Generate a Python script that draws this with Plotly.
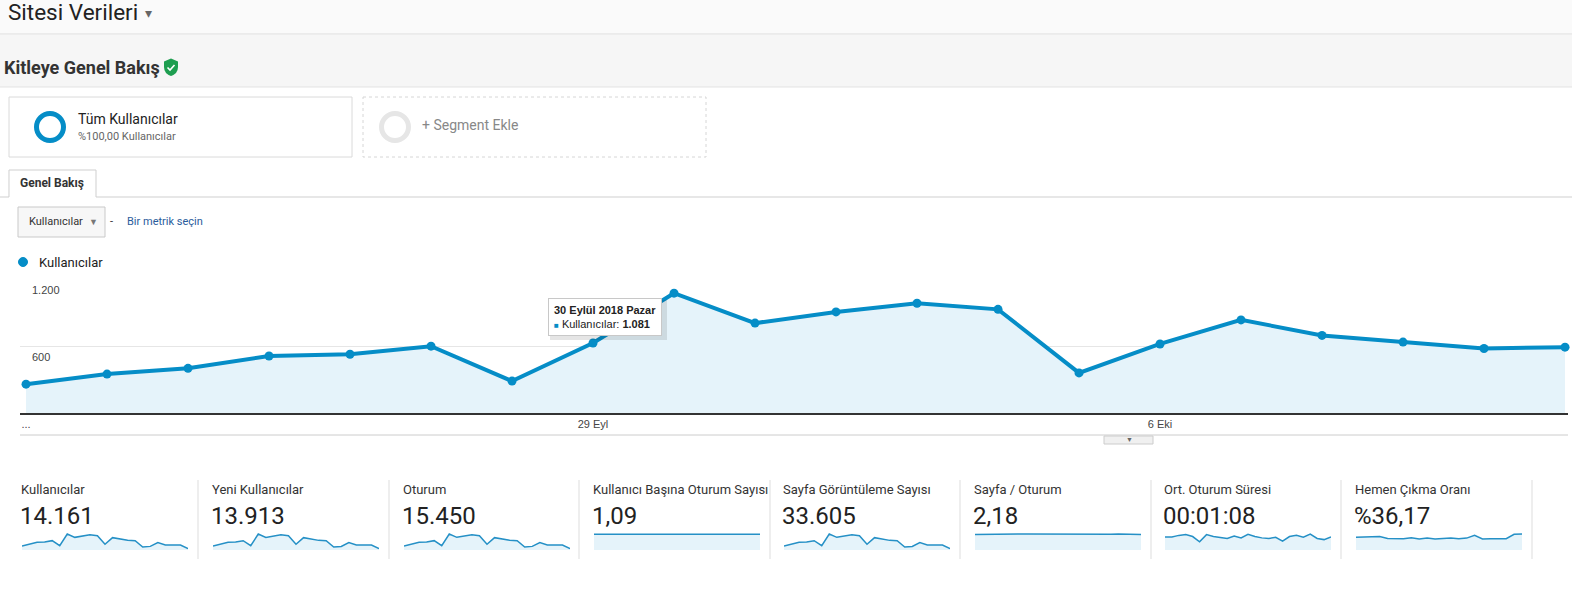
import plotly.graph_objects as go

W, H = 1572, 614

# ---------------- data ----------------
dates = ["2018-09-22", "2018-09-23", "2018-09-24", "2018-09-25", "2018-09-26",
         "2018-09-27", "2018-09-28", "2018-09-29", "2018-09-30", "2018-10-01",
         "2018-10-02", "2018-10-03", "2018-10-04", "2018-10-05", "2018-10-06",
         "2018-10-07", "2018-10-08", "2018-10-09", "2018-10-10", "2018-10-11"]
users = [260, 351, 403, 514, 530, 603, 288, 632, 1081, 811,
         912, 990, 935, 362, 623, 840, 700, 640, 582, 594]

ytick_vals = [600, 1200]
ytick_text = ["600", "1.200"]
xtick_vals = ["2018-09-22", "2018-09-29", "2018-10-06"]
xtick_text = ["...", "29 Eyl", "6 Eki"]

metric_names = ["Kullanıcılar", "Yeni Kullanıcılar", "Oturum",
                "Kullanıcı Başına Oturum Sayısı", "Sayfa Görüntüleme Sayısı",
                "Sayfa / Oturum", "Ort. Oturum Süresi", "Hemen Çıkma Oranı"]
metric_values = ["14.161", "13.913", "15.450", "1,09", "33.605", "2,18",
                 "00:01:08", "%36,17"]

spark_users = [270, 380, 510, 530, 620, 290, 1060, 840, 930, 1010, 950, 380,
               820, 710, 640, 620, 200, 240, 490, 330, 330, 330, 90]
spark_new_users = [265, 372, 500, 520, 608, 284, 1040, 823, 911, 990, 931, 372,
                   804, 696, 627, 608, 196, 235, 480, 323, 323, 323, 88]
spark_sessions = [294, 414, 556, 578, 676, 316, 1155, 916, 1014, 1101, 1036, 414,
                  894, 774, 698, 676, 218, 262, 534, 360, 360, 360, 98]
spark_sess_per_user = [1.08, 1.09, 1.09, 1.09, 1.09, 1.09, 1.09, 1.09, 1.10, 1.09,
                       1.09, 1.09, 1.09, 1.09, 1.09, 1.09, 1.09, 1.09, 1.09, 1.09,
                       1.10, 1.09, 1.09]
spark_pageviews = [640, 900, 1210, 1260, 1470, 690, 2520, 2000, 2210, 2400, 2260, 900,
                   1950, 1690, 1520, 1470, 475, 570, 1160, 785, 785, 785, 215]
spark_pages_per_session = [2.14, 2.16, 2.20, 2.18, 2.15, 2.18, 2.20, 2.19, 2.18, 2.17,
                           2.19, 2.18, 2.18, 2.19, 2.20, 2.19, 2.14, 2.19, 2.18, 2.20,
                           2.17, 2.19, 2.12]
spark_avg_duration = [68, 68, 76, 80, 70, 43, 80, 70, 65, 60, 73, 63, 82, 70, 63,
                      60, 66, 46, 70, 76, 66, 83, 60, 54, 68]
spark_bounce = [35.5, 35.5, 36.4, 37.2, 32.0, 32.0, 31.2, 33.8, 30.3, 32.9, 30.3,
                32.0, 32.9, 31.2, 32.9, 40.7, 30.3, 31.2, 32.0, 31.2, 43.3, 44.2]

sparks = [spark_users, spark_new_users, spark_sessions, spark_sess_per_user,
          spark_pageviews, spark_pages_per_session, spark_avg_duration, spark_bounce]

# ---------------- helpers ----------------
def X(p):
    return p / W


def Y(p):
    return 1 - p / H


BLUE = "#058dc7"
FILL = "#e5f3fa"
UI = "Roboto, Arial, sans-serif"
ARIAL = "Liberation Sans, Arial, sans-serif"

shapes = []
annotations = []


def rect(x0, y0, x1, y1, fill=None, line=None, lw=1, dash=None, layer="below"):
    d = dict(type="rect", xref="paper", yref="paper",
             x0=X(x0), x1=X(x1), y0=Y(y0), y1=Y(y1), layer=layer,
             fillcolor=fill if fill else "rgba(0,0,0,0)",
             line=dict(color=line if line else "rgba(0,0,0,0)", width=lw if line else 0))
    if dash:
        d["line"]["dash"] = dash
    shapes.append(d)


def hline(x0, x1, y, color, width=1, layer="below"):
    shapes.append(dict(type="line", xref="paper", yref="paper", x0=X(x0), x1=X(x1),
                       y0=Y(y), y1=Y(y), line=dict(color=color, width=width), layer=layer))


def vline(x, y0, y1, color, width=1):
    shapes.append(dict(type="line", xref="paper", yref="paper", x0=X(x), x1=X(x),
                       y0=Y(y0), y1=Y(y1), line=dict(color=color, width=width), layer="below"))


def circle(cx, cy, r, color, width, fill=None, layer="below"):
    shapes.append(dict(type="circle", xref="paper", yref="paper",
                       x0=X(cx - r), x1=X(cx + r), y0=Y(cy + r), y1=Y(cy - r),
                       fillcolor=fill if fill else "rgba(0,0,0,0)",
                       line=dict(color=color, width=width), layer=layer))


def path(cmds, fill=None, line=None, lw=1, layer="below"):
    s = ""
    for c in cmds:
        if isinstance(c, str):
            s += c + " "
        else:
            s += "%.6f,%.6f " % (X(c[0]), Y(c[1]))
    shapes.append(dict(type="path", xref="paper", yref="paper", path=s.strip(),
                       fillcolor=fill if fill else "rgba(0,0,0,0)",
                       line=dict(color=line if line else "rgba(0,0,0,0)", width=lw if line else 0),
                       layer=layer))


def text(x, y, t, size, color="#333", family=UI, xanchor="left", yanchor="middle", **kw):
    annotations.append(dict(x=X(x), y=Y(y), xref="paper", yref="paper", text=t,
                            showarrow=False, xanchor=xanchor, yanchor=yanchor,
                            font=dict(size=size, color=color, family=family), **kw))


# ---------------- page chrome ----------------
rect(0, 0, W, 34, fill="#fafafa")
hline(0, W, 34, "#dcdcdc")
rect(0, 35, W, 87, fill="#f6f6f6")
hline(0, W, 87, "#e3e3e3")

text(6, 12, "Sitesi Verileri", 22.5, "#222")
text(148, 13, "▾", 14, "#666", xanchor="center")

text(2, 67, "<b>Kitleye Genel Bakış</b>", 18, "#333")
# green shield with check
path(["M", (171, 58.5), "L", (178, 61.5), "L", (178, 67), "Q", (178, 73.5), (171, 76),
      "Q", (164, 73.5), (164, 67), "L", (164, 61.5), "Z"], fill="#1e9e50")
path(["M", (167.5, 67.5), "L", (170, 70), "L", (174.5, 65)], line="white", lw=1.6, layer="above")

# segment boxes
rect(9, 97, 352, 157, fill="white", line="#dadada")
circle(50, 127, 13.5, BLUE, 5)
text(76, 119, "Tüm Kullanıcılar", 14, "#222")
text(76, 136, "%100,00 Kullanıcılar", 11, "#666")

rect(363, 97, 706, 157, fill="white", line="#d6d6d6", dash="dot")
circle(395, 127, 13.5, "#e6e6e6", 5)
text(420, 125, "+ Segment Ekle", 14, "#888")

# tab
hline(0, 9, 197, "#cfcfcf")
hline(96, W, 197, "#cfcfcf")
path(["M", (9, 197), "L", (9, 170), "L", (96, 170), "L", (96, 197)], line="#cfcfcf", fill="white")
text(52, 183, "<b>Genel Bakış</b>", 12, "#333", xanchor="center")

# metric selector
rect(18, 207, 105, 237, fill="#f7f7f7", line="#c9c9c9")
text(27, 222, "Kullanıcılar", 11, "#333")
text(93, 222, "▼", 9, "#777", xanchor="center")
text(111, 222, "-", 11, "#333", xanchor="center")
text(125, 222, "Bir metrik seçin", 11, "#2a5c9c")

# legend
circle(23, 262, 4.5, BLUE, 1, fill=BLUE)
text(37, 262, "Kullanıcılar", 13, "#222")

# y labels inside the plot
for v, t in zip(ytick_vals, ytick_text):
    annotations.append(dict(x=X(30), y=v, xref="paper", yref="y", text=t, showarrow=False,
                            xanchor="left", yanchor="top", yshift=-2,
                            font=dict(size=11, color="#444", family=ARIAL)))

# line under x labels + small toggle button
hline(20, 1568, 435, "#cccccc")
rect(1104, 436, 1153, 444, fill="#f0f0f0", line="#cccccc")
text(1129, 440, "▼", 7, "#666", xanchor="center")

# tooltip
rect(550, 300, 667, 340, fill="rgba(0,0,0,0.10)", layer="above")
annotations.append(dict(x=X(548), y=Y(298), xref="paper", yref="paper",
                        xanchor="left", yanchor="top", align="left", showarrow=False,
                        text="<b>30 Eylül 2018 Pazar</b><br><span style='color:#058dc7;font-size:8px'>■</span> Kullanıcılar: <b>1.081</b>",
                        font=dict(size=11, color="#222", family=ARIAL),
                        bgcolor="white", bordercolor="#c8c8c8", borderwidth=1, borderpad=5))

# metric tiles
tile_x = [19, 210, 401, 591, 781, 972, 1162, 1353]
dividers = [198, 389, 579, 770, 960, 1151, 1341, 1532]
for xd in dividers:
    vline(xd, 480, 559, "#dddddd")
for tx, name, val in zip(tile_x, metric_names, metric_values):
    text(tx, 489, name, 13, "#333")
    text(tx - 1, 516, val, 24, "#222")

# ---------------- traces ----------------
fig = go.Figure()
fig.add_trace(go.Scatter(x=dates, y=users, mode="lines+markers", fill="tozeroy",
                         fillcolor=FILL, line=dict(color=BLUE, width=4),
                         marker=dict(size=9, color=BLUE), cliponaxis=False,
                         hoverinfo="skip", showlegend=False))

layout_axes = {}
for i, (tx, vals) in enumerate(zip(tile_x, sparks)):
    n = i + 2
    fig.add_trace(go.Scatter(x=list(range(len(vals))), y=vals, mode="lines",
                             fill="tozeroy", fillcolor=FILL,
                             line=dict(color="#2590c6", width=1.5),
                             xaxis="x%d" % n, yaxis="y%d" % n,
                             hoverinfo="skip", showlegend=False))
    layout_axes["xaxis%d" % n] = dict(domain=[X(tx + 3), X(tx + 169)], anchor="y%d" % n,
                                      range=[0, len(vals) - 1], visible=False, fixedrange=True)
    layout_axes["yaxis%d" % n] = dict(domain=[Y(550), Y(531)], anchor="x%d" % n,
                                      range=[0, max(vals) * 1.19], visible=False, fixedrange=True)

fig.update_layout(
    width=W, height=H, autosize=False,
    margin=dict(l=0, r=0, t=0, b=0),
    paper_bgcolor="white", plot_bgcolor="rgba(0,0,0,0)",
    showlegend=False,
    xaxis=dict(domain=[X(20), X(1568)], type="date",
               range=["2018-09-21 22:13", "2018-10-11 00:53"],
               tickvals=xtick_vals, ticktext=xtick_text, ticks="",
               tickfont=dict(size=11, color="#444", family=ARIAL),
               showgrid=False, showline=True, linecolor="#333", linewidth=1.5,
               zeroline=False, fixedrange=True),
    yaxis=dict(domain=[Y(413), Y(280)], range=[0, 1200], tickvals=ytick_vals,
               showticklabels=False, showgrid=True, gridcolor="#e6e6e6", gridwidth=1,
               zeroline=False, showline=False, fixedrange=True),
    shapes=shapes, annotations=annotations,
    **layout_axes,
)

fig.write_html("out.html", config={"displayModeBar": False},
               post_script="document.body.style.margin='0px';document.body.style.overflow='hidden';")
